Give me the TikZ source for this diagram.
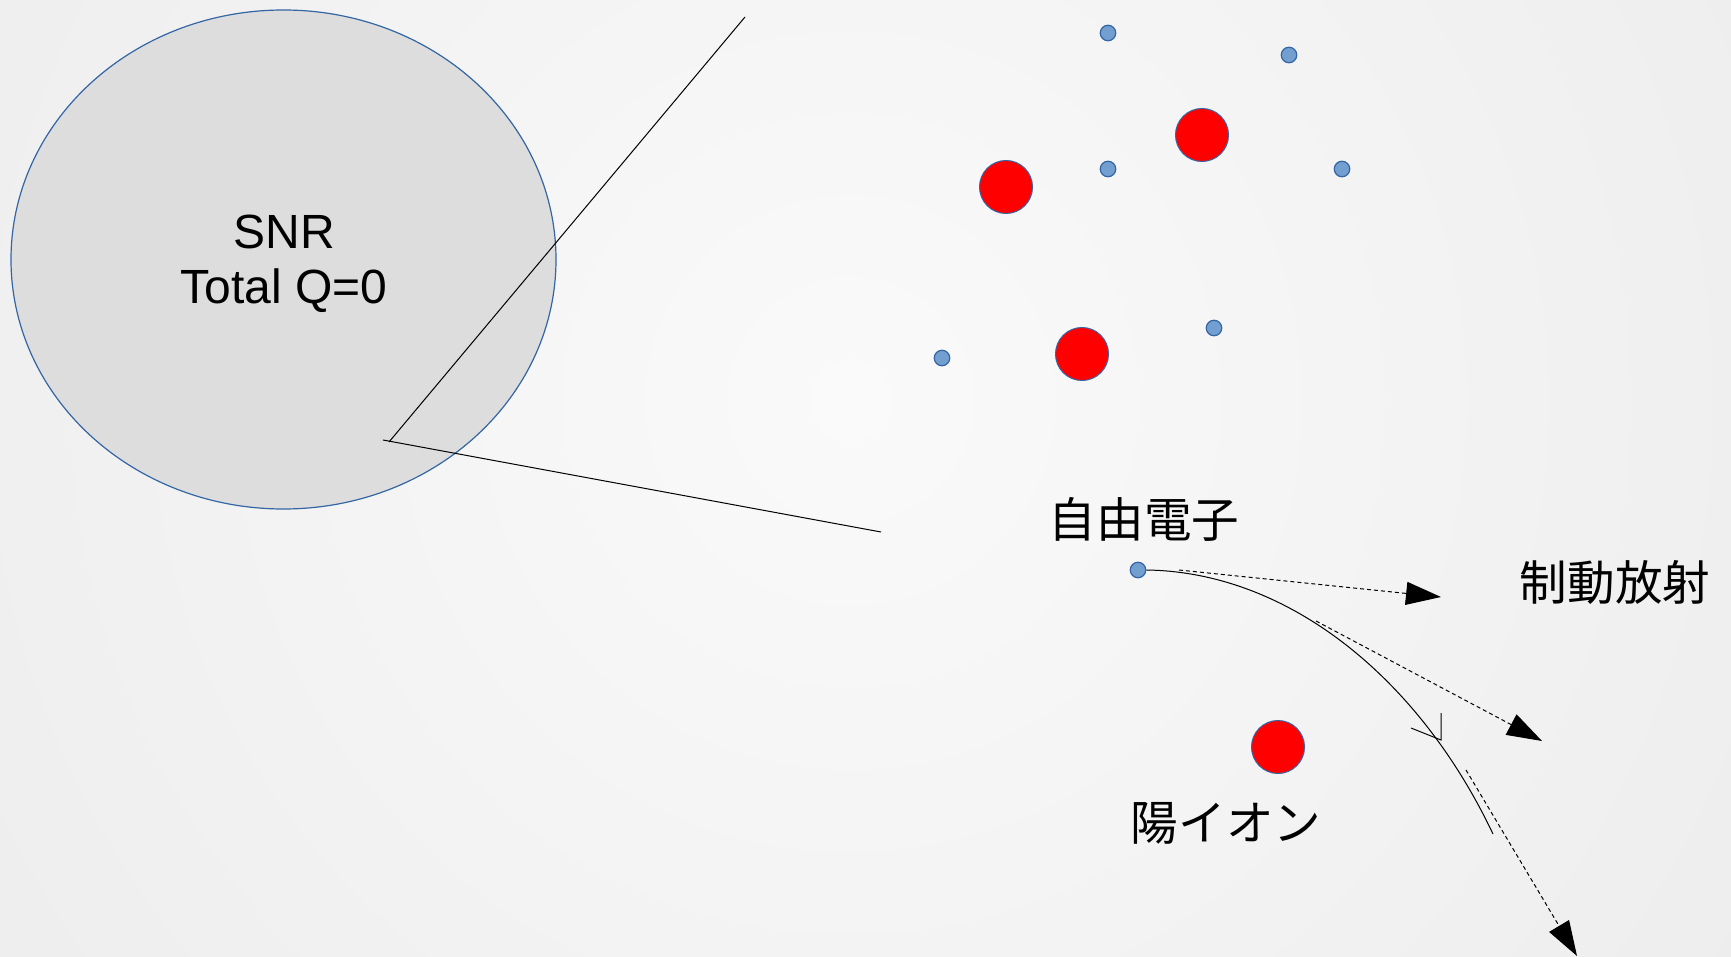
\documentclass[tikz,border=0pt]{standalone}
\usepackage{fontspec}
\setmainfont{Liberation Sans}
\newfontfamily\jp{Noto Sans CJK JP}
\usetikzlibrary{arrows.meta}
\definecolor{bgin}{HTML}{FAFAFA}
\definecolor{bgout}{HTML}{DEDEDE}
\definecolor{snrfill}{HTML}{DDDDDD}
\definecolor{lineblue}{HTML}{3465A4}
\definecolor{dotblue}{HTML}{729FCF}
\definecolor{ionred}{HTML}{FF0000}
\tikzset{
  electron/.style={circle, fill=dotblue, draw=lineblue, line width=0.6pt, minimum size=15.5pt*0.5, inner sep=0pt},
  ion/.style={circle, fill=ionred, draw=lineblue, line width=0.5pt, minimum size=53pt*0.5, inner sep=0pt},
  zoomline/.style={black, line width=0.5pt},
  photon/.style={black, line width=0.5pt, dash pattern=on 2pt off 1.5pt, -{Triangle[length=17.5pt,width=11.5pt]}},
  label/.style={font=\fontsize{24pt}{27.5pt}\selectfont, anchor=base, inner sep=0pt},
  jplabel/.style={font=\jp\fontsize{23.8pt}{27.5pt}\selectfont, anchor=base, inner sep=0pt}
}
\begin{document}
\begin{tikzpicture}[x=0.5pt,y=-0.5pt]
\useasboundingbox (0,0) rectangle (1731,957);
% background
\begin{scope}
  \clip (0,0) rectangle (1731,957);
  \shade[inner color=bgin, outer color=bgout] (850,400) circle [radius=2300];
\end{scope}
% supernova remnant
\draw[fill=snrfill, draw=lineblue, line width=0.6pt] (283.5,259.5) ellipse [x radius=272.5, y radius=249.5];
\node[label] (snr) at (284,249) {SNR};
\node[label] (totq) at (284,304) {Total Q=0};
% zoom lines
\coordinate (ztop) at (745,17);
\coordinate (zc1) at (389,442);
\coordinate (zc2) at (383,440);
\coordinate (zbot) at (881,532);
\draw[zoomline] (ztop) -- (zc1);
\draw[zoomline] (zc2) -- (zbot);
% plasma particles
\node[electron] (e1) at (1108,33) {};
\node[electron] (e2) at (1289,55) {};
\node[electron] (e3) at (1108,169) {};
\node[electron] (e4) at (1342,169) {};
\node[electron] (e5) at (1214,328) {};
\node[electron] (e6) at (942,358) {};
\node[ion] (p1) at (1202,135) {};
\node[ion] (p2) at (1006,187) {};
\node[ion] (p3) at (1082,354) {};
% bremsstrahlung
\node[jplabel] (freee) at (1144,538) {自由電子};
\node[electron] (e) at (1138,570) {};
\node[ion] (ion) at (1278,747) {};
\node[jplabel] (ionlbl) at (1226,840) {陽イオン};
\node[jplabel] (brems) at (1615,600) {制動放射};
\coordinate (pend) at (1493,834);
\draw[zoomline] (e.east) .. controls (1290,572) and (1420,680) .. (pend);
\coordinate (vtip) at (1441,740);
\draw[zoomline] ([shift={(-30,-12)}]vtip) -- (vtip) -- ([shift={(0,-27)}]vtip);
\coordinate (a1s) at (1179,570);
\coordinate (a1e) at (1441,597);
\coordinate (a2s) at (1316,621);
\coordinate (a2e) at (1542,741);
\coordinate (a3s) at (1466,770);
\coordinate (a3e) at (1577,956);
\draw[photon] (a1s) -- (a1e);
\draw[photon] (a2s) -- (a2e);
\draw[photon] (a3s) -- (a3e);
\end{tikzpicture}
\end{document}
